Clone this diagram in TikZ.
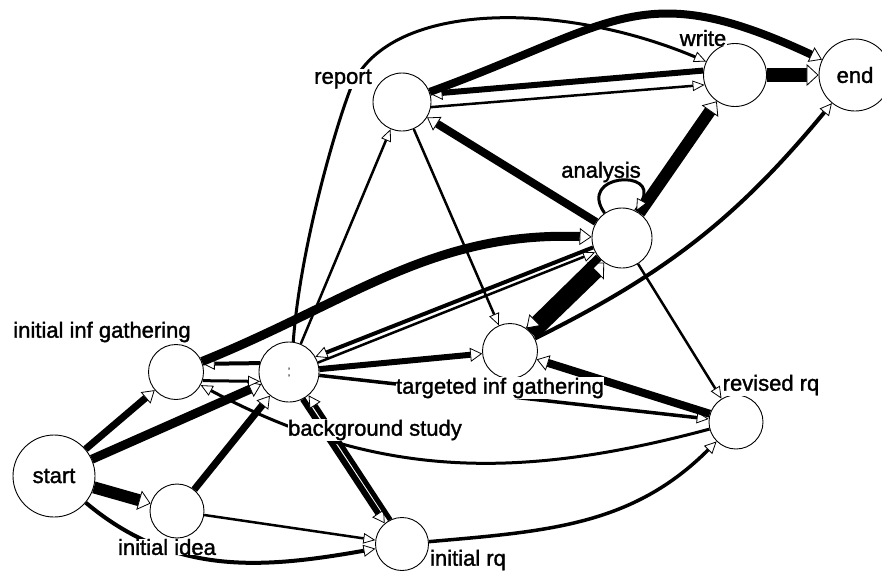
\documentclass[tikz,border=0pt]{standalone}
\usepackage{fontspec}
\setmainfont{Liberation Sans}
\newfontfamily\tagfont{Liberation Sans}[FakeBold=1.5]
\usetikzlibrary{arrows.meta}

\begin{document}
\begin{tikzpicture}[x=1pt, y=1pt]
	\tikzset{vertex/.style={shape = circle, draw, fill = white, line width = 0.9pt, inner sep = 0pt, minimum size = #1, font = \tagfont\fontsize{22}{24}\selectfont}}
	\tikzset{flow/.style={line width = #1,
			/utils/exec={\pgfmathsetlengthmacro\tipwidth{#1+8pt}},
			-{Triangle[fill = white, line width = 0.8pt, length = 12pt, width = \tipwidth]}}}
	\tikzset{lbl/.style={fill = white, inner sep = 0.3pt, font = \tagfont\fontsize{22}{24}\selectfont}}
	\useasboundingbox (0, 0) rectangle (882, -571);
	%vertices
	\node[vertex=82pt] (start) at (54, -476) {start};
	\node[vertex=54pt] (idea) at (177, -511) {};
	\node[vertex=55pt] (iig) at (176, -372) {};
	\node[vertex=60pt] (bs) at (289, -372) {\fontsize{16}{16}\selectfont\color{gray}:};
	\node[vertex=53pt] (irq) at (402, -544) {};
	\node[vertex=55pt] (tig) at (510, -351) {};
	\node[vertex=54pt] (rrq) at (736, -422) {};
	\node[vertex=60pt] (analysis) at (622, -238) {};
	\node[vertex=58pt] (report) at (402, -102) {};
	\node[vertex=63pt] (write) at (735, -75) {};
	\node[vertex=72pt] (end) at (855, -75) {end};
	%edges
	\path (start) edge[flow=7pt] (iig);
	\path (start) edge[flow=9pt] (bs);
	\path (start) edge[flow=12pt] (idea);
	\path (start) edge[flow=4pt, out=-40, in=190] (irq);
	\path (idea) edge[flow=7pt] (bs);
	\path (idea) edge[flow=2.5pt] (irq);
	\path (iig.-18) edge[flow=3pt] (bs.198);
	\path (bs.163) edge[flow=4pt] (iig.17);
	\path (iig) edge[flow=9pt, out=22, in=178] (analysis);
	\path (bs) edge[flow=2.5pt] (report);
	\draw[flow=3pt] (bs.82) .. controls (300, -250) and (334, -132) .. (350, -90) .. controls (385, 0) and (560, 0) .. (write.155);
	\path (report) edge[flow=2.5pt] (tig);
	\path (report.-10) edge[flow=2.5pt] (write.198);
	\path (write.172) edge[flow=6pt] (report.16);
	\path (report) edge[flow=8pt, out=20, in=155, looseness=1.3] (end);
	\path (analysis) edge[flow=8pt] (report);
	\path (analysis) edge[flow=12pt] (write);
	\path (write) edge[flow=14pt] (end);
	\path (tig) edge[flow=4pt, bend right=12] (end);
	\path (analysis) edge[flow=3pt, loop, out=125, in=62, min distance=48pt] (analysis);
	\path (tig.40) edge[flow=16pt] (analysis.234);
	\path (analysis.220) edge[flow=8pt] (tig.54);
	\path (bs) edge[flow=6pt] (tig);
	\path (bs.18) edge[flow=2.5pt] (analysis.208);
	\path (analysis.198) edge[flow=4pt] (bs.30);
	\path (bs) edge[flow=3.5pt] (rrq);
	\path (rrq) edge[flow=8pt] (tig);
	\path (analysis) edge[flow=2.5pt] (rrq);
	\path (rrq) edge[flow=3pt, out=195, in=-28] (iig);
	\path (irq) edge[flow=3.5pt, out=5, in=225] (rrq);
	\path (bs.-63) edge[flow=6pt] (irq.130);
	\path (irq.116) edge[flow=5pt] (bs.-50);
	%labels
	\node[lbl] (report-tag) at (343, -79) {report};
	\node[lbl] (write-tag) at (703, -38) {write};
	\node[lbl, fill = none] (analysis-tag) at (601, -172) {analysis};
	\node[lbl] (iig-tag) at (102, -332) {initial inf gathering};
	\node[lbl] (bs-tag) at (375, -430) {background study};
	\node[lbl] (tig-tag) at (500, -388) {targeted inf gathering};
	\node[lbl] (rrq-tag) at (771, -385) {revised rq};
	\node[lbl] (irq-tag) at (468, -560) {initial rq};
	\node[lbl] (idea-tag) at (167, -547) {initial idea};
\end{tikzpicture}
\end{document}
